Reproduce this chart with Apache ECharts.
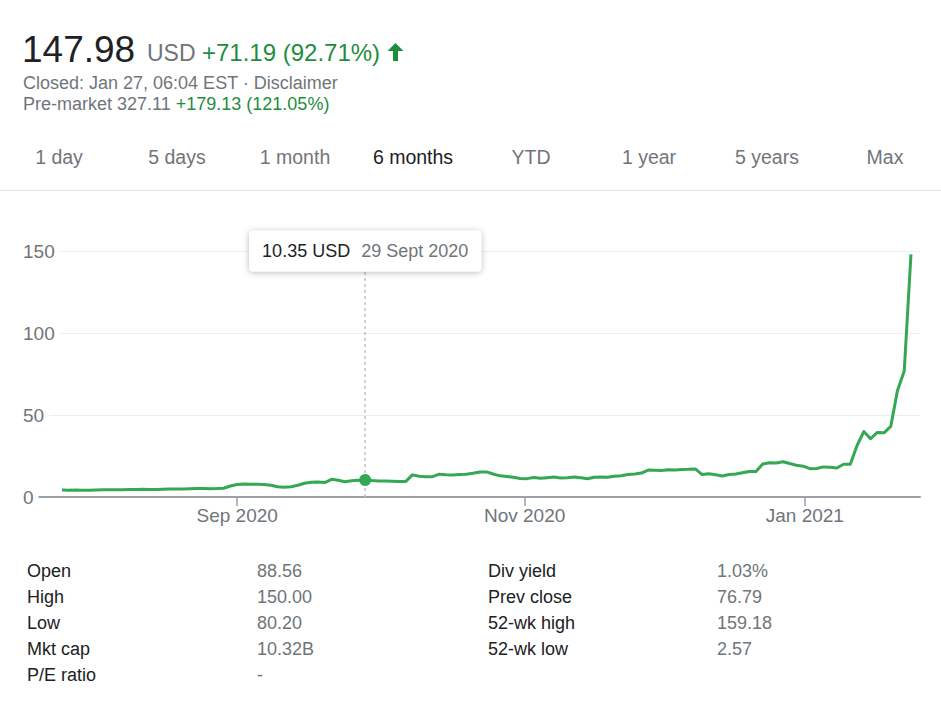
<!DOCTYPE html>
<html>
<head>
<meta charset="utf-8">
<script src="https://cdn.jsdelivr.net/npm/echarts@6.0.0/dist/echarts.min.js"></script>
<style>
  html, body { margin: 0; padding: 0; background: #fff; }
  body { width: 941px; height: 709px; position: relative; overflow: hidden;
         font-family: 'Liberation Sans', Arial, sans-serif; color: #202124; }
  .abs { position: absolute; white-space: nowrap; }
  .gray { color: #70757a; }
  .green { color: #1e8e3e; }
  #tabs { position: absolute; left: 0; top: 148px; display: flex; }
  #tabs div { width: 118px; text-align: center; font-size: 19.5px; line-height: 19.5px; color: #70757a; }
  #tabs div.sel { color: #202124; }
  #sep { position: absolute; left: 0; top: 190px; width: 941px; height: 1px; background: #e3e4e6; }
  #chart { position: absolute; left: 0; top: 200px; width: 941px; height: 345px; }
  .row { position: absolute; font-size: 18px; line-height: 26px; white-space: nowrap; }
</style>
</head>
<body>
<div class="abs" style="left:22px;top:31px;font-size:37px;line-height:37px;color:#202124;">147.98</div>
<div class="abs" style="left:147px;top:41px;font-size:23px;line-height:23px;"><span class="gray">USD</span> <span class="green" style="font-size:24px;">+71.19 (92.71%)</span></div>
<svg class="abs" style="left:387px;top:43px;" width="17" height="18" viewBox="0 0 17 18">
  <path d="M8.5 0 L16.5 8 L11 8 L11 18 L6 18 L6 8 L0.5 8 Z" fill="#1e8e3e"/>
</svg>
<div class="abs gray" style="left:23px;top:74px;font-size:18px;line-height:18px;">Closed: Jan 27, 06:04 EST · Disclaimer</div>
<div class="abs" style="left:23px;top:95px;font-size:18px;line-height:18px;"><span class="gray">Pre-market 327.11</span> <span class="green">+179.13 (121.05%)</span></div>

<div id="tabs"></div>
<div id="sep"></div>
<div id="chart"></div>
<div id="stats"></div>

<script>
// ---------- data ----------
const tabs = ['1 day', '5 days', '1 month', '6 months', 'YTD', '1 year', '5 years', 'Max'];
const selectedTab = '6 months';

const dates = [
  '2020-07-27','2020-07-28','2020-07-29','2020-07-30','2020-07-31',
  '2020-08-03','2020-08-04','2020-08-05','2020-08-06','2020-08-07','2020-08-10','2020-08-11','2020-08-12','2020-08-13','2020-08-14',
  '2020-08-17','2020-08-18','2020-08-19','2020-08-20','2020-08-21','2020-08-24','2020-08-25','2020-08-26','2020-08-27','2020-08-28','2020-08-31',
  '2020-09-01','2020-09-02','2020-09-03','2020-09-04','2020-09-08','2020-09-09','2020-09-10','2020-09-11','2020-09-14','2020-09-15',
  '2020-09-16','2020-09-17','2020-09-18','2020-09-21','2020-09-22','2020-09-23','2020-09-24','2020-09-25','2020-09-28','2020-09-29','2020-09-30',
  '2020-10-01','2020-10-02','2020-10-05','2020-10-06','2020-10-07','2020-10-08','2020-10-09','2020-10-12','2020-10-13','2020-10-14','2020-10-15',
  '2020-10-16','2020-10-19','2020-10-20','2020-10-21','2020-10-22','2020-10-23','2020-10-26','2020-10-27','2020-10-28','2020-10-29','2020-10-30',
  '2020-11-02','2020-11-03','2020-11-04','2020-11-05','2020-11-06','2020-11-09','2020-11-10','2020-11-11','2020-11-12','2020-11-13',
  '2020-11-16','2020-11-17','2020-11-18','2020-11-19','2020-11-20','2020-11-23','2020-11-24','2020-11-25','2020-11-27','2020-11-30',
  '2020-12-01','2020-12-02','2020-12-03','2020-12-04','2020-12-07','2020-12-08','2020-12-09','2020-12-10','2020-12-11','2020-12-14','2020-12-15',
  '2020-12-16','2020-12-17','2020-12-18','2020-12-21','2020-12-22','2020-12-23','2020-12-24','2020-12-28','2020-12-29','2020-12-30','2020-12-31',
  '2021-01-04','2021-01-05','2021-01-06','2021-01-07','2021-01-08','2021-01-11','2021-01-12','2021-01-13','2021-01-14','2021-01-15',
  '2021-01-19','2021-01-20','2021-01-21','2021-01-22','2021-01-25','2021-01-26'
];

const closes = [
  4.20, 4.16, 4.25, 4.18, 4.10,
  4.22, 4.35, 4.47, 4.36, 4.38, 4.50, 4.58, 4.66, 4.60, 4.62,
  4.80, 4.95, 4.88, 4.85, 5.02, 5.15, 5.13, 5.10, 5.18, 5.36, 6.68,
  7.65, 7.90, 7.80, 7.70, 7.60, 7.20, 6.20, 5.90, 6.30, 7.20,
  8.40, 9.00, 9.10, 8.80, 10.80, 10.20, 9.30, 9.90, 10.20, 10.35, 10.00,
  9.80, 9.70, 9.60, 9.50, 9.40, 13.49, 12.60, 12.30, 12.40, 13.90, 13.60,
  13.40, 13.70, 13.90, 14.50, 15.20, 15.30, 14.00, 12.90, 12.50, 12.10, 11.30,
  11.20, 11.90, 11.40, 11.80, 12.20, 11.60, 11.80, 12.20, 11.70, 11.10,
  12.00, 12.20, 12.00, 12.60, 13.00, 13.70, 14.00, 14.60, 16.40, 16.30,
  16.10, 16.60, 16.50, 16.80, 16.90, 17.10, 13.70, 14.20, 13.60, 12.80, 13.70,
  14.00, 14.80, 15.60, 15.50, 20.10, 20.90, 20.70, 21.50, 20.40, 19.40, 18.80,
  17.25, 17.37, 18.36, 18.08, 17.69, 19.94, 19.95, 31.40, 39.91, 35.50,
  39.36, 39.12, 43.03, 65.01, 76.79, 147.98
];

const yTicks = [0, 50, 100, 150];
const xTickDates = ['2020-09-01', '2020-11-01', '2021-01-01'];
const xTickLabels = ['Sep 2020', 'Nov 2020', 'Jan 2021'];
const tipDate = '2020-09-29';
const currency = 'USD';
const monthNames = ['Jan','Feb','Mar','Apr','May','June','July','Aug','Sept','Oct','Nov','Dec'];

const statLabelsA = ['Open', 'High', 'Low', 'Mkt cap', 'P/E ratio'];
const statValuesA = ['88.56', '150.00', '80.20', '10.32B', '-'];
const statLabelsB = ['Div yield', 'Prev close', '52-wk high', '52-wk low'];
const statValuesB = ['1.03%', '76.79', '159.18', '2.57'];

// ---------- page text ----------
const tabsEl = document.getElementById('tabs');
tabs.forEach(t => {
  const d = document.createElement('div');
  d.textContent = t;
  if (t === selectedTab) d.className = 'sel';
  tabsEl.appendChild(d);
});
const statsEl = document.getElementById('stats');
function addStat(text, left, row, cls) {
  const d = document.createElement('div');
  d.className = 'row ' + cls;
  d.style.left = left + 'px';
  d.style.top = (558 + row * 26) + 'px';
  d.textContent = text;
  statsEl.appendChild(d);
}
statLabelsA.forEach((t, i) => addStat(t, 27, i, ''));
statValuesA.forEach((t, i) => addStat(t, 257, i, 'gray'));
statLabelsB.forEach((t, i) => addStat(t, 488, i, ''));
statValuesB.forEach((t, i) => addStat(t, 717, i, 'gray'));

// ---------- chart ----------
const FONT = "'Liberation Sans', Arial, sans-serif";
const dayMs = d => new Date(d + 'T00:00:00Z').getTime();
function fracIndex(d) {
  const t = dayMs(d);
  for (let i = 0; i < dates.length - 1; i++) {
    const a = dayMs(dates[i]), b = dayMs(dates[i + 1]);
    if (t >= a && t < b) return i + (t - a) / (b - a);
  }
  return dates.length - 1;
}
const tickPos = xTickDates.map(fracIndex);
function fmtDate(d) {
  const p = d.split('-');
  return (+p[2]) + ' ' + monthNames[+p[1] - 1] + ' ' + p[0];
}
const tipIdx = dates.indexOf(tipDate);
const yMax = yTicks[yTicks.length - 1];

const chart = echarts.init(document.getElementById('chart'), null, { renderer: 'svg' });
chart.setOption({
  animation: false,
  grid: { left: 33, right: 21, top: 51, bottom: 48 },
  xAxis: {
    type: 'value', min: -4.3, max: 127.34,
    axisLine: { show: true, onZero: false, lineStyle: { color: '#9aa0a6', width: 2 } },
    axisTick: { show: true, customValues: tickPos, length: 9, lineStyle: { color: '#9aa0a6', width: 1.5 } },
    axisLabel: {
      customValues: tickPos, margin: 9, color: '#70757a', fontSize: 19, fontFamily: FONT,
      formatter: v => {
        let best = 0;
        tickPos.forEach((p, i) => { if (Math.abs(p - v) < Math.abs(tickPos[best] - v)) best = i; });
        return xTickLabels[best];
      }
    },
    splitLine: { show: false }
  },
  yAxis: {
    type: 'value', min: yTicks[0], max: yMax, interval: yTicks[1] - yTicks[0],
    axisLine: { show: false }, axisTick: { show: false },
    axisLabel: {
      margin: 10, align: 'left', color: '#70757a', fontSize: 19, fontFamily: FONT,
      backgroundColor: '#fff', padding: [2, 5, 2, 0], verticalAlign: 'middle'
    },
    splitLine: { show: true, showMinLine: false, lineStyle: { color: '#eeeeee', width: 1 } }
  },
  series: [{
    type: 'line',
    data: closes.map((v, i) => [i, v]),
    showSymbol: false,
    lineStyle: { color: '#34a853', width: 3, join: 'round' },
    markLine: {
      silent: true, symbol: 'none', z: 3,
      label: { show: false },
      lineStyle: { color: '#bdc1c6', type: [3, 3], width: 1.5 },
      data: [[{ coord: [tipIdx, 0] }, { coord: [tipIdx, yMax] }]]
    },
    markPoint: {
      silent: true, z: 10,
      data: [
        { coord: [tipIdx, closes[tipIdx]], symbol: 'circle', symbolSize: 12,
          itemStyle: { color: '#34a853' }, label: { show: false } },
        { coord: [tipIdx, yMax], symbol: 'rect', symbolSize: 0,
          label: {
            show: true, position: 'inside',
            formatter: '{v|' + closes[tipIdx].toFixed(2) + ' ' + currency + '}{d|' + fmtDate(tipDate) + '}',
            backgroundColor: '#fff', borderRadius: 4, padding: [11, 13],
            shadowBlur: 6, shadowColor: 'rgba(0,0,0,0.28)', shadowOffsetY: 1,
            rich: {
              v: { fontSize: 18, lineHeight: 19, color: '#202124', fontFamily: FONT, padding: [0, 11, 0, 0] },
              d: { fontSize: 18, lineHeight: 19, color: '#70757a', fontFamily: FONT }
            }
          } }
      ]
    }
  }]
});
</script>
</body>
</html>
